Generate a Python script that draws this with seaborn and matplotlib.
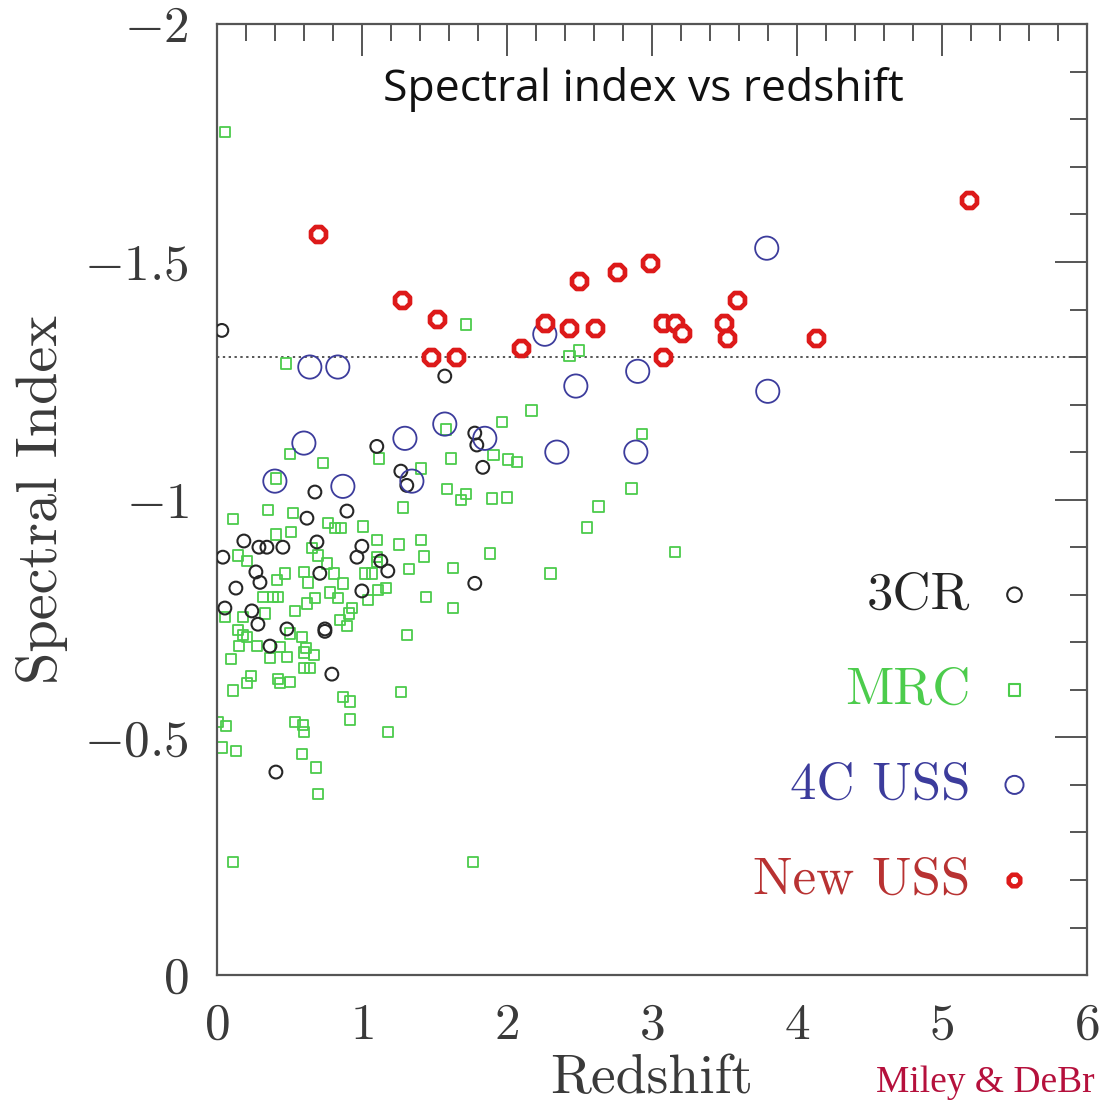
import matplotlib
matplotlib.use("Agg")
import matplotlib.pyplot as plt
import seaborn as sns
import pandas as pd
from matplotlib.ticker import MultipleLocator, FixedLocator, FuncFormatter

# ---------------- data ----------------
# 3CR (black small circles)
cr3_z = [0.034, 1.572, 1.103, 1.779, 1.793, 1.834, 1.269, 1.310, 0.676, 0.897,
         0.621, 0.186, 0.290, 0.345, 0.455, 0.690, 1.000, 0.041, 0.966, 1.131,
         1.179, 0.710, 0.269, 0.297, 0.131, 1.000, 1.779, 0.055, 0.241, 0.283,
         0.483, 0.745, 0.745, 0.366, 0.793, 0.407]
cr3_a = [-1.356, -1.260, -1.112, -1.140, -1.115, -1.068, -1.060, -1.030, -1.016, -0.976,
         -0.961, -0.913, -0.900, -0.900, -0.900, -0.911, -0.902, -0.879, -0.879, -0.871,
         -0.850, -0.845, -0.848, -0.826, -0.814, -0.808, -0.824, -0.772, -0.766, -0.738,
         -0.728, -0.728, -0.723, -0.692, -0.633, -0.427]

# MRC (green squares)
mrc_z = [0.055, 0.476, 1.717, 2.434, 2.497, 2.172, 1.966, 1.579, 2.931, 0.503,
         0.731, 1.117, 1.614, 1.910, 2.007, 2.069, 1.407, 0.407, 1.586, 1.717,
         1.683, 1.897, 2.000, 2.862, 2.634, 1.283, 2.552, 0.110, 0.352, 0.524,
         0.766, 0.814, 0.855, 1.007, 0.510, 0.407, 1.103, 1.255, 1.407, 0.655,
         0.697, 1.428, 1.883, 3.159, 0.145, 0.207, 0.759, 1.103, 1.103, 1.324,
         1.628, 2.303, 0.600, 0.469, 0.807, 1.021, 1.069, 0.414, 0.628, 0.869,
         0.317, 0.386, 0.421, 0.779, 0.834, 0.676, 1.041, 1.110, 1.166, 1.441,
         1.628, 0.621, 0.538, 0.055, 0.331, 0.931, 0.910, 0.848, 0.897, 0.179,
         0.145, 0.179, 0.207, 0.503, 0.586, 1.310, 0.152, 0.276, 0.434, 0.614,
         0.366, 0.483, 0.669, 0.097, 0.600, 0.600, 0.641, 0.234, 0.207, 0.421,
         0.434, 0.503, 0.110, 1.269, 0.869, 0.917, 0.917, 0.538, 0.593, 0.600,
         1.179, 0.062, 0.007, 0.034, 0.131, 0.586, 0.683, 0.697, 0.110, 1.766]
mrc_a = [-1.773, -1.287, -1.369, -1.302, -1.314, -1.188, -1.163, -1.148, -1.138, -1.096,
         -1.077, -1.087, -1.087, -1.094, -1.085, -1.079, -1.066, -1.045, -1.022, -1.012,
         -0.999, -1.003, -1.005, -1.024, -0.986, -0.984, -0.942, -0.959, -0.978, -0.972,
         -0.951, -0.940, -0.940, -0.944, -0.932, -0.927, -0.915, -0.906, -0.915, -0.898,
         -0.883, -0.881, -0.887, -0.890, -0.883, -0.871, -0.866, -0.879, -0.869, -0.854,
         -0.856, -0.845, -0.848, -0.845, -0.845, -0.845, -0.845, -0.831, -0.826, -0.824,
         -0.795, -0.795, -0.795, -0.805, -0.793, -0.793, -0.789, -0.810, -0.814, -0.795,
         -0.772, -0.782, -0.766, -0.753, -0.761, -0.772, -0.761, -0.747, -0.734, -0.753,
         -0.726, -0.715, -0.711, -0.719, -0.711, -0.715, -0.692, -0.692, -0.690, -0.688,
         -0.667, -0.669, -0.673, -0.665, -0.679, -0.646, -0.646, -0.629, -0.614, -0.623,
         -0.614, -0.616, -0.599, -0.595, -0.585, -0.576, -0.538, -0.532, -0.526, -0.511,
         -0.511, -0.524, -0.532, -0.479, -0.471, -0.465, -0.437, -0.381, -0.238, -0.238]

# 4C USS (blue large circles)
c4_z = [0.400, 0.600, 0.641, 0.834, 0.869, 1.297, 1.345, 1.572, 1.848, 2.262,
        2.345, 2.476, 2.903, 2.890, 3.793, 3.800]
c4_a = [-1.039, -1.119, -1.279, -1.279, -1.028, -1.129, -1.039, -1.159, -1.129, -1.348,
        -1.100, -1.239, -1.270, -1.100, -1.529, -1.228]

# New USS (red thick rings)
new_z = [0.70, 1.28, 1.52, 1.48, 1.65, 2.10, 2.26, 2.43, 2.50, 2.61,
         2.76, 2.99, 3.08, 3.16, 3.21, 3.08, 3.50, 3.52, 3.59, 4.13, 5.19]
new_a = [-1.558, -1.42, -1.38, -1.30, -1.30, -1.319, -1.371, -1.361, -1.46, -1.361,
         -1.478, -1.497, -1.371, -1.371, -1.35, -1.30, -1.371, -1.34, -1.42, -1.34, -1.63]

legend_names = ["3CR", "MRC", "4C USS", "New USS"]
uss_cut = -1.3
x_ticks = [0, 1, 2, 3, 4, 5, 6]
y_ticks = [-2, -1.5, -1, -0.5, 0]

# ---------------- style ----------------
sns.set_theme(style="white")
plt.rcParams["font.family"] = ["cmr10", "DejaVu Serif"]
plt.rcParams["mathtext.fontset"] = "cm"
plt.rcParams["axes.formatter.use_mathtext"] = True

col_3cr = "#262626"
col_mrc = "#4ccc4c"
col_4c = "#3c3c9c"
col_new = "#dd1a1a"
axis_col = "#555555"

fig = plt.figure(figsize=(11.01, 11.03), dpi=100)
ax = fig.add_axes([0.197, 0.116, 0.790, 0.862])

df_mrc = pd.DataFrame({"z": mrc_z, "a": mrc_a})
df_3cr = pd.DataFrame({"z": cr3_z, "a": cr3_a})
df_4c = pd.DataFrame({"z": c4_z, "a": c4_a})
df_new = pd.DataFrame({"z": new_z, "a": new_a})

ax.axhline(uss_cut, color="#555555", ls=(0, (1.2, 1.8)), lw=1.4, zorder=1)

sns.scatterplot(data=df_mrc, x="z", y="a", ax=ax, marker="s", s=58,
                facecolor="none", edgecolor=col_mrc, linewidth=1.3, zorder=2)
sns.scatterplot(data=df_3cr, x="z", y="a", ax=ax, marker="o", s=85,
                facecolor="none", edgecolor=col_3cr, linewidth=1.5, zorder=3)
sns.scatterplot(data=df_4c, x="z", y="a", ax=ax, marker="o", s=280,
                facecolor="none", edgecolor=col_4c, linewidth=1.3, zorder=4)
sns.scatterplot(data=df_new, x="z", y="a", ax=ax, marker="8", s=135,
                facecolor="white", edgecolor=col_new, linewidth=3.4, zorder=5)

ax.set_xlim(0, 6)
ax.set_ylim(0, -2)

ax.xaxis.set_major_locator(FixedLocator(x_ticks))
ax.yaxis.set_major_locator(FixedLocator(y_ticks))
ax.xaxis.set_minor_locator(MultipleLocator(0.2))
ax.yaxis.set_minor_locator(MultipleLocator(0.1))
fmt = FuncFormatter(lambda v, p: f"${v:g}$")
ax.xaxis.set_major_formatter(fmt)
ax.yaxis.set_major_formatter(fmt)

ax.tick_params(which="both", direction="in", top=True, right=True,
               color=axis_col, width=1.4, labelcolor="#3a3a3a")
ax.tick_params(which="major", length=23, labelsize=37, pad=20)
ax.tick_params(which="minor", length=12)
for s in ax.spines.values():
    s.set_color(axis_col)
    s.set_linewidth(1.6)

ax.set_xlabel("Redshift", fontsize=40, color="#3a3a3a", labelpad=4)
ax.set_ylabel("Spectral Index", fontsize=42, color="#3a3a3a", labelpad=12)

ax.text(0.49, 0.931, "Spectral index vs redshift", transform=ax.transAxes,
        ha="center", va="center", fontsize=32, family="Open Sans", color="#111111")

# legend (text + marker, inside axes, right side)
leg_cols = [col_3cr, col_mrc, col_4c, "#b83232"]
leg_y = [0.40, 0.30, 0.20, 0.10]
for name, c, yy in zip(legend_names, leg_cols, leg_y):
    ax.text(0.866, yy, name, transform=ax.transAxes, ha="right", va="center",
            fontsize=38, color=c)
ax.scatter([0.917], [leg_y[0]], transform=ax.transAxes, marker="o", s=110,
           facecolor="none", edgecolor=col_3cr, linewidth=1.5, clip_on=False)
ax.scatter([0.917], [leg_y[1]], transform=ax.transAxes, marker="s", s=70,
           facecolor="none", edgecolor=col_mrc, linewidth=1.5, clip_on=False)
ax.scatter([0.917], [leg_y[2]], transform=ax.transAxes, marker="o", s=170,
           facecolor="none", edgecolor=col_4c, linewidth=1.4, clip_on=False)
ax.scatter([0.917], [leg_y[3]], transform=ax.transAxes, marker="8", s=80,
           facecolor="white", edgecolor=col_new, linewidth=3.3, clip_on=False)

fig.text(0.994, 0.003, "Miley & DeBr", fontsize=27, color="#b5103c",
         family="Liberation Serif", ha="right", va="bottom")

fig.savefig("out.png", dpi=100)
